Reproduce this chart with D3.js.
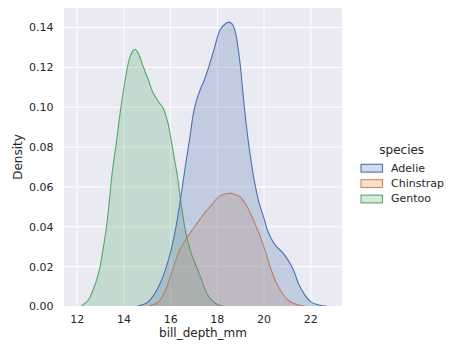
<!DOCTYPE html>
<html>
<head>
<meta charset="utf-8">
<script src="https://cdn.jsdelivr.net/npm/d3@7"></script>
<style>
  html, body { margin: 0; padding: 0; background: #ffffff; }
  svg { display: block; font-family: "DejaVu Sans", sans-serif; }
</style>
</head>
<body>
<svg id="chart" width="457" height="356"></svg>
<script>
// ---- data ----
const species = ["Adelie", "Chinstrap", "Gentoo"];
const colors = ["#4C72B0", "#DD8452", "#55A868"];

const adelieX = [14.6, 15.0, 15.3, 15.6, 15.9, 16.1, 16.3, 16.5, 16.7, 16.85, 17.0, 17.15, 17.3, 17.45, 17.6, 17.86, 18.14, 18.35, 18.5, 18.65, 18.8, 18.9, 19.0, 19.2, 19.4, 19.6, 19.8, 20.0, 20.2, 20.5, 20.8, 21.05, 21.3, 21.5, 21.75, 22.05, 22.4, 22.7];
const adelieY = [0, 0.0015, 0.0055, 0.012, 0.022, 0.031, 0.043, 0.058, 0.074, 0.085, 0.097, 0.104, 0.109, 0.113, 0.118, 0.128, 0.1386, 0.1415, 0.1424, 0.1415, 0.137, 0.130, 0.121, 0.097, 0.078, 0.063, 0.052, 0.0447, 0.037, 0.0305, 0.027, 0.023, 0.0175, 0.011, 0.0058, 0.0018, 0.0004, 0];

const chinstrapX = [15.1, 15.5, 15.8, 16.1, 16.4, 16.7, 17.0, 17.4, 17.8, 18.1, 18.5, 18.8, 19.0, 19.3, 19.55, 19.85, 20.05, 20.3, 20.55, 20.85, 21.15, 21.55, 21.8];
const chinstrapY = [0, 0.002, 0.008, 0.018, 0.028, 0.034, 0.039, 0.0455, 0.051, 0.055, 0.0566, 0.0558, 0.0547, 0.0497, 0.0435, 0.035, 0.0285, 0.019, 0.0115, 0.0055, 0.002, 0.0004, 0];

const gentooX = [12.2, 12.5, 12.7, 12.85, 13.0, 13.15, 13.3, 13.4, 13.5, 13.6, 13.72, 13.86, 14.0, 14.14, 14.28, 14.4, 14.5, 14.63, 14.85, 15.06, 15.27, 15.48, 15.69, 15.9, 16.04, 16.18, 16.3, 16.42, 16.55, 16.7, 16.9, 17.13, 17.35, 17.57, 17.86, 18.14, 18.3];
const gentooY = [0, 0.003, 0.008, 0.013, 0.0197, 0.030, 0.042, 0.053, 0.065, 0.074, 0.084, 0.097, 0.108, 0.118, 0.125, 0.128, 0.1287, 0.127, 0.120, 0.1136, 0.107, 0.1028, 0.0994, 0.092, 0.0835, 0.074, 0.066, 0.0555, 0.045, 0.035, 0.0265, 0.0197, 0.013, 0.0063, 0.002, 0.0003, 0];

const xTicks = [12, 14, 16, 18, 20, 22];
const yTicks = [0, 0.02, 0.04, 0.06, 0.08, 0.10, 0.12, 0.14];
const xLabel = "bill_depth_mm";
const yLabel = "Density";
const legendTitle = "species";

// ---- drawing ----
const svg = d3.select("#chart");
const plot = { left: 64, right: 342, top: 8, bottom: 306 };

const x = d3.scaleLinear().domain([11.456, 23.357]).range([plot.left, plot.right]);
const y = d3.scaleLinear().domain([0, 0.1495]).range([plot.bottom, plot.top]);

svg.append("defs").append("clipPath").attr("id", "clip")
  .append("rect")
  .attr("x", plot.left).attr("y", plot.top)
  .attr("width", plot.right - plot.left).attr("height", plot.bottom - plot.top);

svg.append("rect")
  .attr("x", plot.left).attr("y", plot.top)
  .attr("width", plot.right - plot.left).attr("height", plot.bottom - plot.top)
  .attr("fill", "#EAEAF2");

// grid via axes
const gx = svg.append("g")
  .attr("transform", `translate(0,${plot.bottom})`)
  .call(d3.axisBottom(x).tickValues(xTicks).tickSize(-(plot.bottom - plot.top)).tickFormat(d3.format("d")).tickPadding(10));
gx.select(".domain").remove();
gx.selectAll("line").attr("stroke", "#ffffff").attr("stroke-width", 1);
gx.selectAll("text").attr("fill", "#262626").attr("font-size", 11)
  .attr("font-family", "DejaVu Sans").attr("dy", null).attr("y", 17);

const gy = svg.append("g")
  .attr("transform", `translate(${plot.left},0)`)
  .call(d3.axisLeft(y).tickValues(yTicks).tickSize(-(plot.right - plot.left)).tickFormat(d3.format(".2f")).tickPadding(10));
gy.select(".domain").remove();
gy.selectAll("line").attr("stroke", "#ffffff").attr("stroke-width", 1);
gy.selectAll("text").attr("fill", "#262626").attr("font-size", 11)
  .attr("font-family", "DejaVu Sans").attr("x", -10.5).attr("dy", "0.36em");

const series = [
  { name: "Gentoo", xs: gentooX, ys: gentooY, color: colors[2] },
  { name: "Chinstrap", xs: chinstrapX, ys: chinstrapY, color: colors[1] },
  { name: "Adelie", xs: adelieX, ys: adelieY, color: colors[0] }
];

const curve = d3.curveCatmullRom.alpha(0.5);
const area = d3.area()
  .x(d => x(d[0])).y0(y(0)).y1(d => y(d[1]))
  .curve(curve);
const line = d3.line()
  .x(d => x(d[0])).y(d => y(d[1]))
  .curve(curve);

const marks = svg.append("g").attr("clip-path", "url(#clip)");
series.forEach(s => {
  const pts = s.xs.map((v, i) => [v, s.ys[i]]);
  marks.append("path").datum(pts).attr("d", area)
    .attr("fill", s.color).attr("fill-opacity", 0.25).attr("stroke", "none");
  marks.append("path").datum(pts).attr("d", line)
    .attr("fill", "none").attr("stroke", s.color).attr("stroke-width", 1.1);
});

// axis labels
svg.append("text")
  .attr("x", (plot.left + plot.right) / 2).attr("y", 337)
  .attr("text-anchor", "middle").attr("font-size", 12).attr("fill", "#262626")
  .text(xLabel);
svg.append("text")
  .attr("transform", `translate(21.5,${(plot.top + plot.bottom) / 2}) rotate(-90)`)
  .attr("text-anchor", "middle").attr("font-size", 12).attr("fill", "#262626")
  .text(yLabel);

// legend
const lg = svg.append("g");
lg.append("text").attr("x", 401.7).attr("y", 154)
  .attr("text-anchor", "middle").attr("font-size", 12).attr("fill", "#262626")
  .text(legendTitle);
species.forEach((name, i) => {
  const base = 171.5 + i * 15.4;
  lg.append("rect")
    .attr("x", 361).attr("y", base - 7.2).attr("width", 21.5).attr("height", 7.8)
    .attr("fill", colors[i]).attr("fill-opacity", 0.25)
    .attr("stroke", colors[i]).attr("stroke-width", 1.1);
  lg.append("text").attr("x", 391).attr("y", base)
    .attr("font-size", 11).attr("fill", "#262626").text(name);
});
</script>
</body>
</html>
